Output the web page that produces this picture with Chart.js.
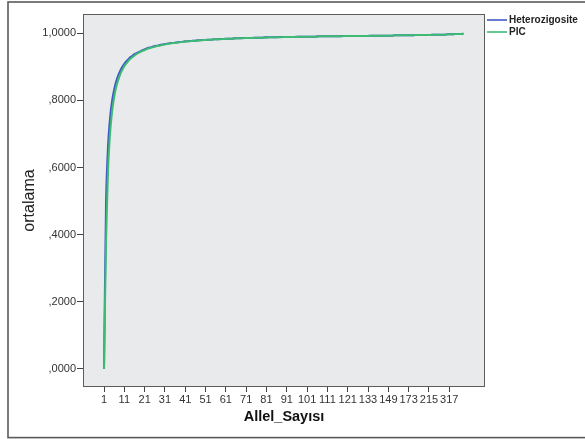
<!DOCTYPE html>
<html><head><meta charset="utf-8">
<script src="https://cdn.jsdelivr.net/npm/chart.js@4.4.0/dist/chart.umd.min.js"></script>
<style>html,body{margin:0;padding:0;background:#fff;}#wrap{width:585px;height:439px;position:relative;}</style>
</head><body><div id="wrap"><canvas id="c" width="585" height="439"></canvas></div>
<script>
// Category labels (allele counts)
const categories = [
  1,2,3,4,5,6,7,8,9,10,11,12,13,14,15,16,17,18,19,20,
  21,22,23,24,25,26,27,28,29,30,31,32,33,34,35,36,37,38,39,40,
  41,42,43,44,45,46,47,48,49,50,51,52,53,54,55,56,57,58,59,60,
  61,62,63,64,65,66,67,68,69,70,71,72,73,74,75,76,77,78,79,80,
  81,82,83,84,85,86,87,88,89,90,91,92,93,94,95,96,97,98,99,100,
  101,102,103,104,105,106,107,108,109,110,111,112,113,114,115,116,117,118,119,120,
  121,122,123,124,125,126,127,128,130,131,133,
  134,135,137,138,140,141,143,145,147,149,
  151,153,155,157,160,162,165,167,170,173,
  176,180,183,187,190,195,199,204,209,215,
  220,227,234,241,250,260,270,284,298,317,
  340,372,410,460,530,640,800
];
const heterozigosite = [
  0,.5,.667,.75,.8,.833,.857,.875,.889,.9,
  .909,.917,.923,.929,.933,.938,.941,.944,.947,.95,
  .952,.955,.957,.958,.96,.962,.963,.964,.966,.967,
  .968,.969,.97,.971,.971,.972,.973,.974,.974,.975,
  .976,.976,.977,.977,.978,.978,.979,.979,.98,.98,
  .98,.981,.981,.981,.982,.982,.982,.983,.983,.983,
  .984,.984,.984,.984,.985,.985,.985,.985,.986,.986,
  .986,.986,.986,.986,.987,.987,.987,.987,.987,.988,
  .988,.988,.988,.988,.988,.988,.989,.989,.989,.989,
  .989,.989,.989,.989,.989,.99,.99,.99,.99,.99,
  .99,.99,.99,.99,.99,.991,.991,.991,.991,.991,
  .991,.991,.991,.991,.991,.991,.991,.992,.992,.992,
  .992,
  .992,.992,.992,.992,.992,.992,.992,.992,.992,.992,
  .993,.993,.993,.993,.993,.993,.993,.993,.993,.993,
  .993,.993,.994,.994,.994,.994,.994,.994,.994,.994,
  .994,.994,.995,.995,.995,.995,.995,.995,.995,.995,
  .995,.996,.996,.996,.996,.996,.996,.996,.997,.997,
  .997,.997,.998,.998,.998,.998,.999
];
const pic = [
  0,.375,.593,.703,.768,.81,.84,.861,.878,.891,
  .902,.91,.918,.924,.929,.934,.938,.942,.945,.948,
  .95,.953,.955,.957,.958,.96,.962,.963,.964,.966,
  .967,.968,.969,.97,.971,.971,.972,.973,.974,.974,
  .975,.976,.976,.977,.977,.978,.978,.979,.979,.98,
  .98,.98,.981,.981,.982,.982,.982,.982,.983,.983,
  .983,.984,.984,.984,.984,.985,.985,.985,.985,.986,
  .986,.986,.986,.986,.986,.987,.987,.987,.987,.987,
  .987,.988,.988,.988,.988,.988,.988,.988,.989,.989,
  .989,.989,.989,.989,.989,.989,.99,.99,.99,.99,
  .99,.99,.99,.99,.99,.99,.991,.991,.991,.991,
  .991,.991,.991,.991,.991,.991,.991,.991,.992,.992,
  .992,
  .992,.992,.992,.992,.992,.992,.992,.992,.992,.992,
  .992,.993,.993,.993,.993,.993,.993,.993,.993,.993,
  .993,.993,.994,.994,.994,.994,.994,.994,.994,.994,
  .994,.994,.995,.995,.995,.995,.995,.995,.995,.995,
  .995,.996,.996,.996,.996,.996,.996,.996,.997,.997,
  .997,.997,.998,.998,.998,.998,.999
];
const xTickIndices = [0,10,20,30,40,50,60,70,80,90,100,110,120,130,140,150,160,170];
const yTicks = [0,0.2,0.4,0.6,0.8,1.0];

const FONT = '"Liberation Sans", Arial, sans-serif';

const framePlugin = {
  id: 'frame',
  beforeDraw(chart) {
    const {ctx, chartArea: a} = chart;
    ctx.save();
    ctx.fillStyle = '#ffffff';
    ctx.fillRect(0, 0, chart.width, chart.height);
    ctx.fillStyle = '#e9eaec';
    ctx.fillRect(a.left, a.top, a.right - a.left, a.bottom - a.top);
    ctx.restore();
  },
  afterDraw(chart) {
    const {ctx, chartArea: a} = chart;
    ctx.save();
    ctx.strokeStyle = '#5c5c5c';
    ctx.lineWidth = 1;
    ctx.strokeRect(a.left + 0.5, a.top + 0.5, a.right - a.left - 1, a.bottom - a.top - 1);
    ctx.strokeStyle = '#5a5a5a';
    ctx.lineWidth = 1.6;
    ctx.strokeRect(8, 2, 590, 435.6);
    // legend
    ctx.font = 'bold 10px ' + FONT;
    ctx.textBaseline = 'middle';
    ctx.textAlign = 'left';
    chart.data.datasets.forEach((ds, i) => {
      const y = 20 + i * 12;
      ctx.strokeStyle = ds.borderColor;
      ctx.lineWidth = 1.6;
      ctx.beginPath(); ctx.moveTo(487, y); ctx.lineTo(507, y); ctx.stroke();
      ctx.fillStyle = '#222';
      ctx.fillText(ds.label, 509, y + 0.5);
    });
    ctx.restore();
  }
};

new Chart(document.getElementById('c'), {
  type: 'line',
  data: {
    datasets: [
      { label: 'Heterozigosite', order: 1, data: heterozigosite.map((v, i) => ({x: i, y: v})),
        borderColor: '#4159c4', borderWidth: 2, pointRadius: 0, tension: 0.2, fill: false },
      { label: 'PIC', order: 0, data: pic.map((v, i) => ({x: i, y: v})),
        borderColor: '#3dba74', borderWidth: 2, pointRadius: 0, tension: 0.2, fill: false }
    ]
  },
  options: {
    responsive: false,
    animation: false,
    devicePixelRatio: 1,
    layout: { padding: { left: 0, top: 14, right: 100, bottom: 0 } },
    plugins: { legend: { display: false }, tooltip: { enabled: false } },
    scales: {
      x: {
        type: 'linear',
        min: -10.35, max: 187.6,
        afterFit(s) { s.height = 52; },
        afterBuildTicks(s) { s.ticks = xTickIndices.map(v => ({value: v})); },
        border: { display: false },
        grid: { display: true, drawOnChartArea: false, drawTicks: true, tickLength: 5, color: '#444', lineWidth: 1 },
        ticks: { autoSkip: false, maxRotation: 0, padding: 1, color: '#333',
          font: { family: FONT, size: 11 },
          callback: (v) => categories[v] },
        title: { display: true, text: 'Allel_Sayısı', color: '#111',
          font: { family: FONT, size: 14.5, weight: 'bold' }, padding: { top: 0, bottom: 13 } }
      },
      y: {
        type: 'linear',
        min: -0.0537, max: 1.0575,
        afterFit(s) { s.width = 83; },
        afterBuildTicks(s) { s.ticks = yTicks.map(v => ({value: v})); },
        border: { display: false },
        grid: { display: true, drawOnChartArea: false, drawTicks: true, tickLength: 6, color: '#444', lineWidth: 1 },
        ticks: { padding: 1, color: '#333', font: { family: FONT, size: 11 },
          callback: (v) => { let s = Number(v).toFixed(4).replace('.', ','); if (s.startsWith('0')) s = s.slice(1); return s; } },
        title: { display: true, text: 'ortalama', color: '#222',
          font: { family: FONT, size: 16 }, padding: { top: 20, bottom: 0 } }
      }
    }
  },
  plugins: [framePlugin]
});
</script>
</body></html>
